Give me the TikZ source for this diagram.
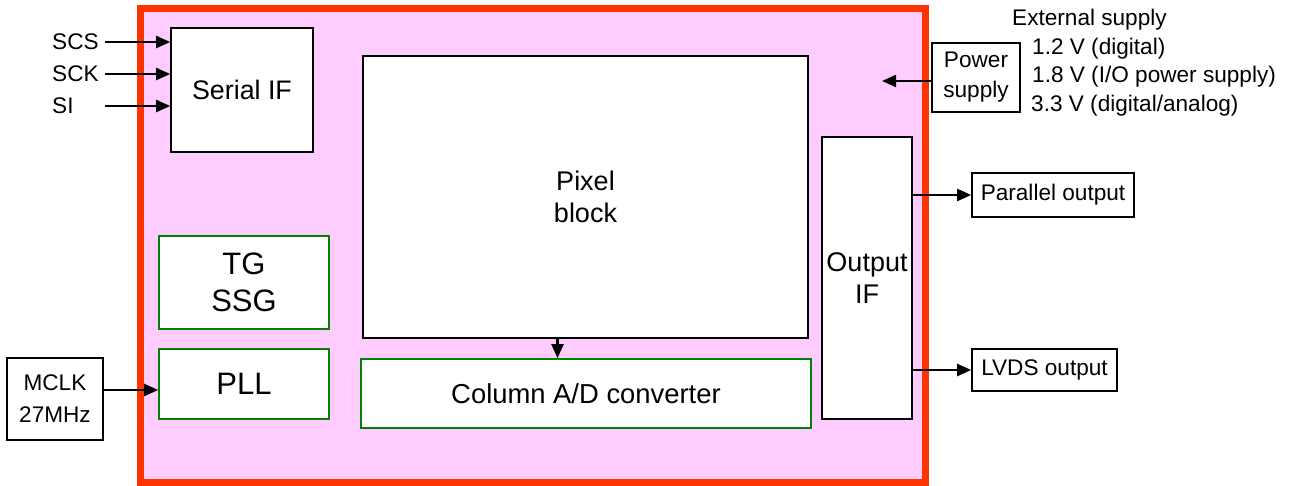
\documentclass[tikz,border=0pt]{standalone}
\usepackage{fontspec}
\setmainfont{Liberation Sans}
\usetikzlibrary{positioning, arrows.meta, calc}

\definecolor{chipred}{HTML}{FF3300}
\definecolor{chippink}{HTML}{FFCCFF}
\definecolor{tggreen}{HTML}{008000}

\tikzset{
    blk/.style={draw, fill=white, line width=1.6pt, align=center, inner sep=0pt},
    grn/.style={blk, draw=tggreen},
    txt/.style={font=\fontsize{22.6}{30}\selectfont},
    arr/.style={line width=2.2pt, -{Triangle[length=14pt, width=12pt]}}
}

\begin{document}
\begin{tikzpicture}[x=1pt, y=-1pt, node distance=.2cm, txt]

        \useasboundingbox (0,0) rectangle (1291,486);

        % CHIP
        \node[draw=chipred, fill=chippink, line width=7pt, minimum width=785pt, minimum height=473pt] (chip) at (532.5,245.5) {};

        % BLOCKS INSIDE
        \node[blk, minimum width=142pt, minimum height=124pt, font=\fontsize{26.8}{32}\selectfont] (serial) at (242,90) {Serial IF};
        \node[blk, minimum width=445pt, minimum height=282pt, font=\fontsize{27}{32}\selectfont] (pixel) at (585.5,197) {Pixel\\ block};
        \node[grn, minimum width=450pt, minimum height=69pt, font=\fontsize{27.4}{32}\selectfont] (adc) at (586,393.5) {Column A/D converter};
        \node[grn, minimum width=170pt, minimum height=93pt, font=\fontsize{31}{37}\selectfont] (tgssg) at (244,282.5) {TG\\SSG};
        \node[grn, minimum width=170pt, minimum height=70pt, font=\fontsize{31}{37}\selectfont] (pll) at (244,384) {PLL};
        \node[blk, minimum width=90pt, minimum height=282pt, font=\fontsize{27}{32}\selectfont] (outif) at (867,278) {Output\\IF};

        % INPUTS
        \node[anchor=west, inner sep=0pt] (scs) at (52,42)  {SCS};
        \node[anchor=west, inner sep=0pt] (sck) at (52,74)  {SCK};
        \node[anchor=west, inner sep=0pt] (si)  at (52,106) {SI};
        \coordinate (inx) at (105,0);
        \draw[arr] (scs -| inx) -- (scs -| serial.west);
        \draw[arr] (sck -| inx) -- (sck -| serial.west);
        \draw[arr] (si -| inx)  -- (si -| serial.west);

        \node[blk, minimum width=96pt, minimum height=82pt, font=\fontsize{22.6}{32}\selectfont] (mclk) at (55,399) {MCLK\\27MHz};
        \draw[arr] ([yshift=-6pt]pll.west -| mclk.east) -- ([yshift=-6pt]pll.west);

        \draw[arr] ([xshift=-28pt]pixel.south) -- ([xshift=-28pt]pixel.south |- adc.north);

        % POWER
        \node[blk, minimum width=88pt, minimum height=69pt, font=\fontsize{22.6}{30}\selectfont] (power) at (976,77.5) {Power\\supply};
        \coordinate (vdd) at (882,81);
        \draw[arr] (power.west |- vdd) -- (vdd);
        \node[anchor=base west, inner sep=0pt] (ext) at (1012,26)  {External supply};
        \node[anchor=base west, inner sep=0pt] (v12) at (1032,55)  {1.2 V (digital)};
        \node[anchor=base west, inner sep=0pt] (v18) at (1032,83)  {1.8 V (I/O power supply)};
        \node[anchor=base west, inner sep=0pt] (v33) at (1031,112) {3.3 V (digital/analog)};

        % OUTPUTS
        \node[blk, minimum width=162pt, minimum height=44pt] (parout) at (1053,195) {Parallel output};
        \node[blk, minimum width=145pt, minimum height=42pt] (lvds) at (1044.5,370) {LVDS output};
        \draw[arr] (parout.west -| outif.east) -- (parout.west);
        \draw[arr] (lvds.west -| outif.east) -- (lvds.west);

    \end{tikzpicture}
\end{document}
